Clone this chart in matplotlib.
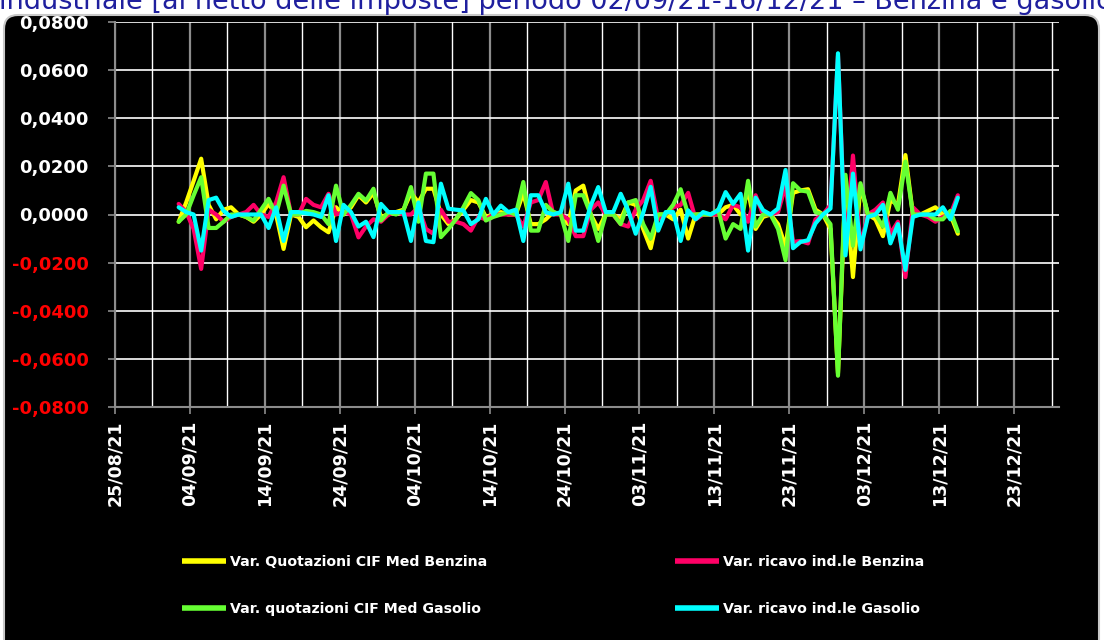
import numpy as np
import pandas as pd
import matplotlib
matplotlib.use("Agg")
import matplotlib.pyplot as plt
import matplotlib.dates as mdates
from matplotlib.patches import FancyBboxPatch
from matplotlib.transforms import IdentityTransform, ScaledTranslation

# ---------------- data ----------------
START_DATE = "2021-09-02"   # daily observations, 02/09/21 -> 15/12/21

quot_benzina = [
    -0.003, 0.005, 0.014, 0.0232, 0.004,
    -0.002, 0.002, 0.003, 0.000, -0.001,
    -0.003, 0.000, 0.0044, 0.000, -0.0143,
    0.000, -0.001, -0.0053, -0.0025, -0.0053,
    -0.0074, 0.003, 0.000, 0.003, 0.008,
    0.005, 0.009, -0.001, 0.000, 0.001,
    0.002, 0.009, 0.005, 0.0107, 0.0107,
    0.000, -0.004, -0.002, 0.002, 0.006,
    0.005, -0.001, 0.000, 0.001, 0.000,
    0.000, 0.009, -0.004, -0.004, -0.002,
    0.001, 0.000, -0.004, 0.010, 0.012,
    0.000, -0.006, 0.000, 0.000, -0.002,
    0.005, 0.004, -0.006, -0.014, 0.000,
    0.000, -0.002, 0.002, -0.010, 0.000,
    0.000, 0.000, 0.000, 0.003, 0.004,
    0.000, 0.010, -0.006, -0.001, 0.000,
    -0.004, -0.0135, 0.009, 0.010, 0.0105,
    0.002, 0.000, -0.006, -0.066, 0.012,
    -0.026, 0.012, 0.000, -0.002, -0.009,
    0.006, 0.004, 0.0247, 0.000, 0.000,
    0.0015, 0.003, 0.000, 0.000, -0.008,
]

ricavo_benzina = [
    0.0044, 0.001, -0.006, -0.0226, 0.002,
    0.000, -0.003, -0.001, 0.000, 0.001,
    0.004, 0.000, -0.001, 0.005, 0.0155,
    0.000, 0.000, 0.0065, 0.004, 0.003,
    0.0086, 0.000, 0.001, 0.000, -0.0095,
    -0.005, -0.002, -0.003, 0.000, 0.001,
    0.000, 0.000, 0.003, -0.006, -0.008,
    0.002, -0.003, -0.003, -0.004, -0.0067,
    -0.001, -0.002, 0.000, 0.000, 0.000,
    0.000, -0.005, 0.005, 0.006, 0.0135,
    0.000, 0.000, -0.002, -0.009, -0.009,
    0.002, 0.005, 0.000, 0.000, -0.004,
    -0.005, 0.002, 0.006, 0.014, -0.002,
    0.000, 0.003, 0.004, 0.009, -0.002,
    0.000, 0.000, 0.000, -0.002, 0.004,
    0.003, -0.003, 0.008, 0.000, 0.000,
    0.001, 0.012, -0.0114, -0.011, -0.012,
    -0.002, 0.000, 0.004, 0.066, -0.014,
    0.0245, -0.013, 0.000, 0.002, 0.005,
    -0.008, -0.003, -0.026, 0.003, 0.000,
    -0.001, -0.003, -0.001, 0.000, 0.008,
]

quot_gasolio = [
    -0.003, 0.000, 0.008, 0.0155, -0.0056,
    -0.0056, -0.003, 0.000, 0.000, -0.001,
    -0.0025, 0.002, 0.0065, 0.000, 0.012,
    0.000, 0.000, 0.0015, 0.001, 0.000,
    -0.004, 0.012, 0.000, 0.004, 0.0086,
    0.0058, 0.0107, -0.0025, 0.001, 0.000,
    0.0017, 0.0114, -0.003, 0.017, 0.017,
    -0.0094, -0.006, -0.002, 0.003, 0.0089,
    0.006, -0.0025, -0.001, 0.000, 0.001,
    0.000, 0.0135, -0.0067, -0.0067, 0.004,
    0.001, 0.000, -0.011, 0.008, 0.008,
    0.000, -0.011, 0.000, 0.000, -0.004,
    0.005, 0.006, -0.004, -0.010, 0.000,
    0.000, 0.004, 0.0105, 0.000, 0.000,
    0.000, 0.000, 0.002, -0.010, -0.004,
    -0.006, 0.014, -0.005, 0.000, 0.000,
    -0.006, -0.019, 0.013, 0.010, 0.0095,
    0.001, 0.000, -0.004, -0.067, 0.0165,
    -0.013, 0.013, 0.000, 0.000, -0.005,
    0.009, 0.002, 0.022, 0.000, 0.000,
    0.000, -0.002, -0.002, 0.0015, -0.007,
]

ricavo_gasolio = [
    0.003, 0.001, 0.000, -0.015, 0.006,
    0.007, 0.0015, -0.001, 0.000, 0.000,
    0.000, 0.000, -0.0056, 0.003, -0.011,
    0.001, 0.001, 0.0005, 0.000, -0.001,
    0.008, -0.011, 0.004, 0.001, -0.005,
    -0.003, -0.0094, 0.0044, 0.001, 0.001,
    0.001, -0.011, 0.005, -0.011, -0.0115,
    0.0128, 0.0024, 0.002, 0.0017, -0.004,
    -0.002, 0.0065, 0.000, 0.0037, 0.001,
    0.002, -0.011, 0.008, 0.008, 0.001,
    0.000, 0.001, 0.0128, -0.0067, -0.0067,
    0.0037, 0.0114, 0.001, 0.001, 0.0086,
    0.0017, -0.008, 0.0007, 0.0115, -0.0067,
    0.001, 0.001, -0.011, 0.0017, -0.002,
    0.001, 0.000, 0.0017, 0.0093, 0.0044,
    0.0086, -0.015, 0.007, 0.0018, 0.000,
    0.0025, 0.0185, -0.014, -0.0114, -0.0107,
    -0.0037, 0.000, 0.0025, 0.067, -0.017,
    0.017, -0.0145, -0.001, 0.000, 0.004,
    -0.012, -0.004, -0.023, -0.001, 0.000,
    0.000, 0.000, 0.003, -0.002, 0.007,
]

series_labels = [
    "Var. Quotazioni CIF Med Benzina",
    "Var. ricavo ind.le Benzina",
    "Var. quotazioni CIF Med Gasolio",
    "Var. ricavo ind.le Gasolio",
]
series_colors = ["#FFFF00", "#FF0066", "#66FF33", "#00FFFF"]
title_text = "industriale [al netto delle imposte] periodo 02/09/21-16/12/21 \u2013 Benzina e gasolio"

X_START, X_END = "2021-08-25", "2021-12-29"
y_ticks = [-0.08, -0.06, -0.04, -0.02, 0.0, 0.02, 0.04, 0.06, 0.08]

dates = pd.date_range(START_DATE, periods=len(quot_benzina), freq="D")

# ---------------- figure ----------------
W, H = 1104, 640
fig = plt.figure(figsize=(W / 100, H / 100), dpi=100)
fig.patch.set_facecolor("white")

panel = FancyBboxPatch((4, -40), 1095, H - 15 + 40,
                       boxstyle="round,pad=0,rounding_size=14",
                       transform=IdentityTransform(), facecolor="black",
                       edgecolor="#c8c8c8", linewidth=1.5, zorder=-10)
fig.patches.append(panel)

fig.text(-0.001, 1 - 9 / H, title_text, color="#1f1f9e", fontsize=19.5,
         ha="left", va="baseline", zorder=5)

ax = fig.add_axes([115 / W, 1 - 407 / H, (1059 - 115) / W, (407 - 22) / H])
ax.set_facecolor("black")
ax.set_zorder(2)

# Excel "between tick marks": points sit in the middle of each day
xpos = dates + pd.Timedelta(hours=12)
all_series = [quot_benzina, ricavo_benzina, quot_gasolio, ricavo_gasolio]
lines = []
for vals, col, lab in zip(all_series, series_colors, series_labels):
    ln, = ax.plot(xpos, vals, color=col, lw=3.0, solid_joinstyle="round",
                  solid_capstyle="round", label=lab, zorder=3)
    lines.append(ln)

ax.set_xlim(pd.Timestamp(X_START), pd.Timestamp(X_END))
ax.set_ylim(-0.08, 0.08)

major = pd.date_range(X_START, "2021-12-23", freq="10D")
minor = pd.date_range("2021-08-30", "2021-12-28", freq="10D")
ax.set_xticks(mdates.date2num(major))
ax.set_xticks(mdates.date2num(minor), minor=True)
ax.set_xticklabels([d.strftime("%d/%m/%y") for d in major], rotation=90,
                   fontsize=12.5, fontweight="bold", color="white")
for lbl in ax.get_xticklabels():
    lbl.set_transform(lbl.get_transform() + ScaledTranslation(5 / 100, 0, fig.dpi_scale_trans))

def fmt(v):
    v = 0.0 if abs(v) < 1e-12 else v
    return f"{v:.4f}".replace(".", ",")

ax.set_yticks(y_ticks)
ax.set_yticklabels([fmt(v) for v in y_ticks], fontsize=13, fontweight="bold")
for lbl, v in zip(ax.get_yticklabels(), y_ticks):
    lbl.set_color("#FF0000" if v < -1e-12 else "white")

ax.grid(which="major", axis="x", color="#8c8c8c", lw=1.6, zorder=1)
ax.grid(which="minor", axis="x", color="white", lw=1.0, zorder=1)
ax.grid(which="major", axis="y", color="white", lw=1.2, zorder=1)
ax.set_axisbelow(True)

ax.tick_params(axis="y", which="major", direction="out", length=5, width=1.2,
               color="#8c8c8c", pad=14)
ax.tick_params(axis="x", which="major", direction="out", length=5, width=1.2,
               color="#8c8c8c", pad=5)
ax.tick_params(axis="x", which="minor", length=0)
for s in ("top", "right"):
    ax.spines[s].set_visible(False)
for s in ("left", "bottom"):
    ax.spines[s].set_color("#8c8c8c")
    ax.spines[s].set_linewidth(1.5)

# legend: two columns, placed like the original
leg_kw = dict(loc="upper left", frameon=False, handlelength=3.1, handletextpad=0.3,
              labelspacing=2.35, borderpad=0, borderaxespad=0,
              prop=dict(weight="bold", size=10.2))
leg1 = fig.legend([lines[0], lines[2]], [series_labels[0], series_labels[2]],
                  bbox_to_anchor=(182 / W, 1 - 555 / H), **leg_kw)
leg2 = fig.legend([lines[1], lines[3]], [series_labels[1], series_labels[3]],
                  bbox_to_anchor=(675 / W, 1 - 555 / H), **leg_kw)
for lg in (leg1, leg2):
    for t in lg.get_texts():
        t.set_color("white")
    for h in lg.legend_handles:
        h.set_linewidth(4)
        h.set_solid_capstyle("butt")

fig.savefig("out.png", dpi=100, facecolor="white")
